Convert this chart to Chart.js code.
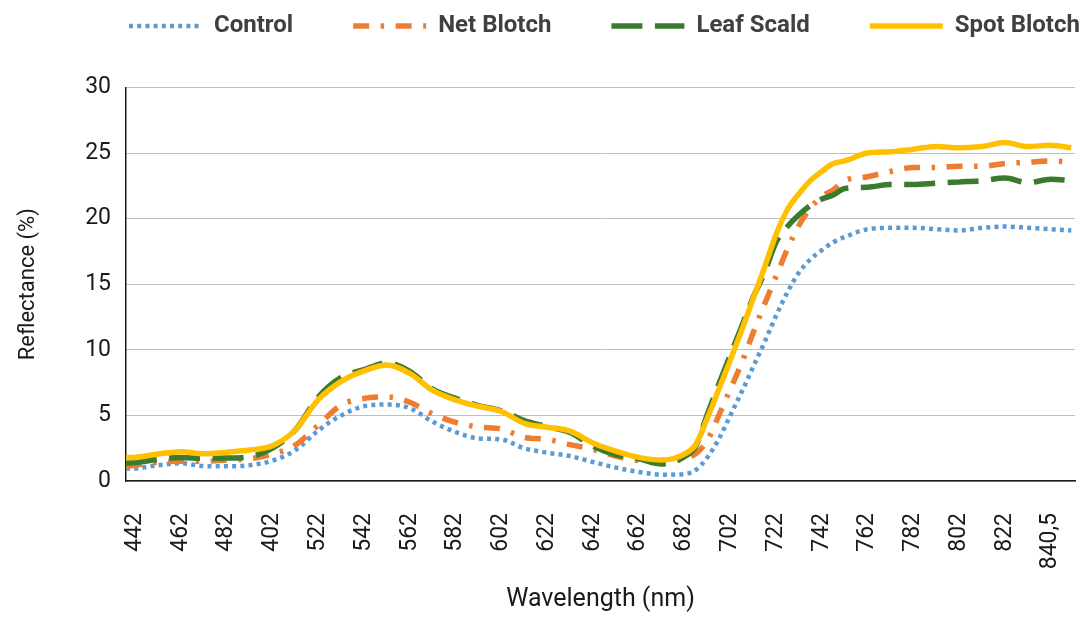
<!DOCTYPE html>
<html>
<head>
<meta charset="utf-8">
<script src="https://cdn.jsdelivr.net/npm/chart.js@4.4.1/dist/chart.umd.min.js"></script>
<style>
  body { margin: 0; background: #fff; }
  #grafico { display: block; }
</style>
</head>
<body>
<canvas id="grafico" width="1091" height="623"></canvas>
<script>
// positions along the wavelength axis (nm)
const wavelengths = [438, 442, 452, 462, 472, 482, 492, 502, 512, 522,
    532, 542, 552, 562, 572, 582, 592, 602, 612, 622,
    632, 642, 652, 662, 672, 682, 687, 692, 697, 702,
    707, 712, 717, 722, 727, 732, 737, 742, 747, 752,
    762, 772, 782, 792, 802, 812, 822, 832, 842, 851];

const control = [0.95, 0.96, 1.2, 1.35, 1.14, 1.12, 1.2, 1.55, 2.35, 3.85,
    5.0, 5.7, 5.83, 5.55, 4.52, 3.73, 3.25, 3.17, 2.49, 2.16,
    1.9, 1.45, 1.02, 0.69, 0.48, 0.53, 0.85, 1.8, 3.2, 5.0,
    6.8, 8.7, 10.6, 12.6, 14.4, 15.9, 16.9, 17.6, 18.2, 18.6,
    19.2, 19.3, 19.3, 19.2, 19.1, 19.3, 19.4, 19.3, 19.2, 19.1];

const netBlotch = [1.1, 1.2, 1.43, 1.5, 1.5, 1.6, 1.7, 2.05, 2.74, 4.26,
    5.79, 6.3, 6.42, 6.0, 5.1, 4.47, 4.11, 3.96, 3.33, 3.17,
    2.77, 2.41, 1.9, 1.55, 1.35, 1.75, 2.1, 3.1, 5.0, 7.0,
    9.0, 11.3, 13.5, 15.6, 17.7, 19.5, 20.8, 21.7, 22.2, 22.9,
    23.2, 23.6, 23.9, 23.9, 24.0, 24.0, 24.2, 24.3, 24.4, 24.3];

const leafScald = [1.35, 1.4, 1.65, 1.8, 1.72, 1.75, 1.85, 2.5, 3.9, 6.4,
    7.9, 8.5, 9.0, 8.35, 7.0, 6.3, 5.75, 5.35, 4.6, 4.15,
    3.7, 2.65, 2.0, 1.7, 1.3, 1.85, 2.7, 5.1, 7.4, 9.6,
    11.8, 14.0, 15.9, 18.2, 19.4, 20.3, 21.0, 21.5, 21.8, 22.3,
    22.4, 22.6, 22.6, 22.7, 22.8, 22.9, 23.1, 22.75, 23.0, 22.9];

const spotBlotch = [1.78, 1.8, 2.06, 2.23, 2.08, 2.2, 2.36, 2.69, 3.9, 6.2,
    7.6, 8.4, 8.85, 8.2, 6.9, 6.17, 5.7, 5.3, 4.4, 4.1,
    3.8, 2.9, 2.28, 1.8, 1.6, 2.05, 2.8, 4.8, 7.0, 9.2,
    11.5, 13.9, 16.3, 18.8, 20.7, 21.9, 22.9, 23.6, 24.2, 24.4,
    25.0, 25.1, 25.3, 25.5, 25.4, 25.5, 25.8, 25.5, 25.6, 25.4];

const tickPositions = [442, 462, 482, 502, 522, 542, 562, 582, 602, 622, 642,
    662, 682, 702, 722, 742, 762, 782, 802, 822, 842];
const tickLabels = ['442', '462', '482', '402', '522', '542', '562', '582', '602', '622', '642',
    '662', '682', '702', '722', '742', '762', '782', '802', '822', '840,5'];

function toPoints(values) {
    return wavelengths.map((w, i) => ({ x: w, y: values[i] }));
}

// more room between legend and plot (no option for that in Chart.js)
const legendSpace = {
    id: 'legendSpace',
    beforeLayout(chart) {
        const legend = chart.legend;
        if (legend && !legend.fitPatched) {
            const fit = legend.fit;
            legend.fit = function () {
                fit.call(this);
                this.height += 39.5;
            };
            legend.fitPatched = true;
        }
    }
};

Chart.defaults.font.family = 'Roboto';
Chart.defaults.color = '#1a1a1a';

const config = {
    type: 'line',
    data: {
        datasets: [{
            label: 'Control',
            data: toPoints(control),
            borderColor: '#5B9BD5',
            borderWidth: 4.5,
            borderDash: [4, 4.2],
            order: 4,
        }, {
            label: 'Net Blotch',
            data: toPoints(netBlotch),
            borderColor: '#ED7D31',
            borderWidth: 5.5,
            borderDash: [16, 11.5, 3.5, 11.5],
            order: 3,
        }, {
            label: 'Leaf Scald',
            data: toPoints(leafScald),
            borderColor: '#3A7B2E',
            borderWidth: 5.5,
            borderDash: [31, 12.5],
            order: 2,
        }, {
            label: 'Spot Blotch',
            data: toPoints(spotBlotch),
            borderColor: '#FFC000',
            borderWidth: 5.5,
            order: 1,
        }]
    },
    options: {
        responsive: false,
        animation: false,
        elements: {
            point: { radius: 0 },
            line: { cubicInterpolationMode: 'monotone', borderCapStyle: 'butt', fill: false }
        },
        layout: {
            padding: { top: -46, left: 69, right: -100, bottom: 0 }
        },
        scales: {
            x: {
                type: 'linear',
                min: 438,
                max: 852.6,
                afterBuildTicks: (scale) => {
                    scale.ticks = tickPositions.map(v => ({ value: v }));
                },
                afterFit: (scale) => {
                    scale.height = 142;
                    scale.paddingRight = 16;
                },
                grid: { display: false },
                border: { display: true, color: '#1a1a1a', width: 1.5 },
                ticks: {
                    autoSkip: false,
                    maxRotation: 90,
                    minRotation: 90,
                    padding: 24,
                    font: { size: 23 },
                    color: '#1a1a1a',
                    callback: (value, index) => tickLabels[index]
                },
                title: {
                    display: true,
                    text: 'Wavelength (nm)',
                    font: { size: 25 },
                    color: '#1a1a1a',
                    padding: { top: 0, bottom: 8 }
                }
            },
            y: {
                min: 0,
                max: 30,
                afterFit: (scale) => {
                    scale.width = 57;
                },
                grid: { color: '#bfbfbf', lineWidth: 1, drawTicks: false },
                border: { display: true, color: '#1a1a1a', width: 1.5 },
                ticks: {
                    stepSize: 5,
                    padding: 15,
                    font: { size: 23 },
                    color: '#1a1a1a'
                },
                title: {
                    display: true,
                    text: 'Reflectance (%)',
                    font: { size: 22 },
                    color: '#1a1a1a',
                    padding: { top: -54, bottom: 0 }
                }
            }
        },
        plugins: {
            legend: {
                position: 'top',
                align: 'start',
                labels: {
                    usePointStyle: true,
                    pointStyle: 'line',
                    pointStyleWidth: 73,
                    padding: 60,
                    color: '#404040',
                    font: { size: 24, weight: 'bold' },
                    sort: (a, b) => a.datasetIndex - b.datasetIndex,
                    // point style legend ignores the line dash, take it from the dataset
                    generateLabels: (chart) => {
                        const items = Chart.defaults.plugins.legend.labels.generateLabels(chart);
                        return items.map(item => {
                            const ds = chart.data.datasets[item.datasetIndex];
                            item.lineDash = ds.borderDash || [];
                            item.lineWidth = ds.borderWidth;
                            item.lineCap = 'butt';
                            return item;
                        });
                    }
                }
            },
            tooltip: { enabled: false }
        }
    },
    plugins: [legendSpace]
};

new Chart(document.getElementById('grafico'), config);
</script>
</body>
</html>
